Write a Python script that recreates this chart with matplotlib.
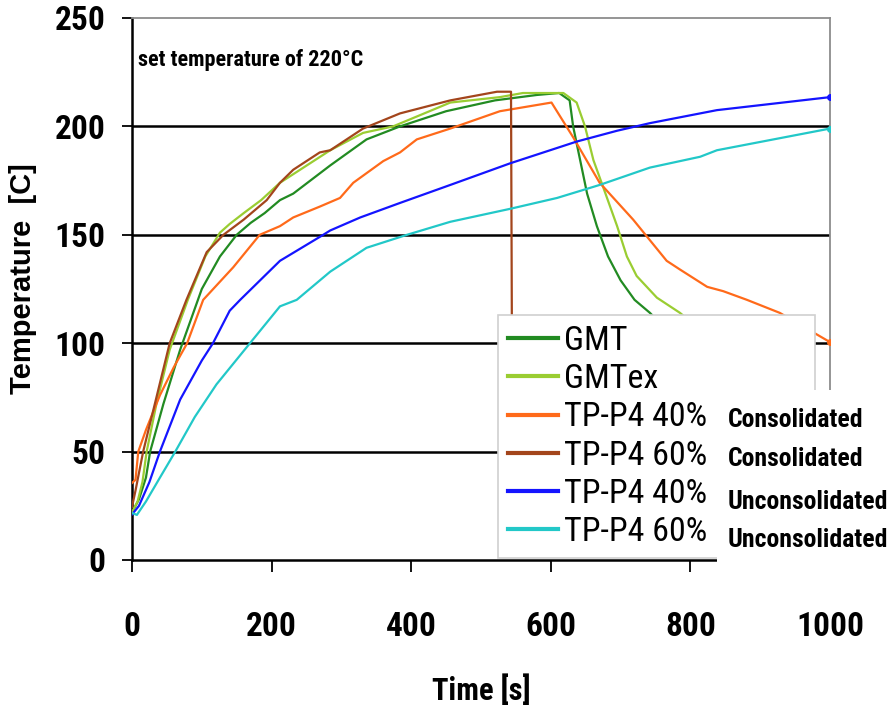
import numpy as np
import matplotlib
matplotlib.use("Agg")
import matplotlib.pyplot as plt
from matplotlib.patches import Rectangle

# heating curves (time in s, temperature in C)
gmt_t = [0, 10, 20, 26, 45, 69, 100, 126, 150, 170, 190, 212, 231, 284, 336, 384, 450, 520,
         580, 612, 627, 632, 642, 652, 666, 682, 700, 720, 742, 760]
gmt_T = [22, 28, 38, 50, 72, 97, 125, 140, 150, 155.5, 160, 166, 169, 182, 194, 200, 207, 212,
         214.5, 215.4, 212, 200, 184.5, 169, 154, 140, 129, 120, 114, 108]

gmtex_t = [0, 8, 15, 21, 35, 54, 80, 105, 126, 140, 160, 185, 212, 284, 331, 374, 456, 527,
           560, 618, 637, 649, 661, 675, 695, 709, 723, 752, 785, 800]
gmtex_T = [22, 27, 36, 50, 72, 97, 120, 140, 151, 155, 160, 166, 174, 189, 197, 200, 211,
           213.5, 215.4, 215.4, 211, 200, 184.5, 172, 154, 140, 131, 121, 114, 110]

tp40c_t = [0, 5, 9, 20, 40, 60, 79, 102, 145, 183, 212, 231, 269, 298, 317, 360, 384,
           408, 456, 527, 601, 632, 670, 718, 766, 785, 824, 847, 881, 928, 1000]
tp40c_T = [35.5, 37, 50, 60, 76, 89, 100, 120, 135, 150, 154, 158, 163, 167, 174, 184,
           188, 194, 199, 207, 211, 195, 174, 157, 138, 134, 126, 124, 120, 114, 100.5]

tp60c_t = [0, 5, 16, 35, 54, 78, 107, 131, 160, 193, 212, 231, 269, 284, 331, 384, 456,
           523, 543, 545]
tp60c_T = [24.5, 32, 50, 75, 100, 120, 142, 150, 157, 166, 174, 180, 188, 189, 199, 206,
           212, 216, 216, 40]

tp40u_t = [0, 10, 25, 40, 69, 100, 116, 140, 155, 212, 274, 284, 327, 384, 456, 542,
           637, 695, 742, 814, 838, 1000]
tp40u_T = [21, 25, 36, 50, 74, 92, 100, 115, 120, 138, 150, 152, 158, 164.7, 173, 183,
           193, 198, 201.5, 206, 207.5, 213.5]

tp60u_t = [0, 7, 20, 40, 62, 90, 121, 169, 212, 236, 284, 336, 394, 456, 542, 609, 670,
           742, 814, 838, 1000]
tp60u_T = [21.7, 20.8, 27, 38, 50, 66, 81, 100, 117, 120, 133, 144, 150, 156, 162, 167,
           173, 181, 186, 189, 199]

series = [
    ("GMT", gmt_t, gmt_T, "#228b22"),
    ("GMTex", gmtex_t, gmtex_T, "#9acd32"),
    ("TP-P4 40%", tp40c_t, tp40c_T, "#ff6a1a"),
    ("TP-P4 60%", tp60c_t, tp60c_T, "#a3451c"),
    ("TP-P4 40%", tp40u_t, tp40u_T, "#1414ff"),
    ("TP-P4 60%", tp60u_t, tp60u_T, "#22c8c8"),
]
side_labels = ["Consolidated", "Consolidated", "Unconsolidated", "Unconsolidated"]

y_ticks = [0, 50, 100, 150, 200, 250]
x_ticks = [0, 200, 400, 600, 800, 1000]
grid_lines = [50, 100, 150, 200]

narrow = ["Roboto Condensed", "DejaVu Sans"]

fig = plt.figure(figsize=(8.96, 7.15), dpi=100)
ax = fig.add_axes([132 / 896, 1 - 560 / 715, 698 / 896, 542 / 715])

for y in grid_lines:
    ax.axhline(y, color="black", lw=1.8, zorder=1)

handles = []
for name, t, T, col in series:
    ln, = ax.plot(t, T, color=col, lw=1.6, zorder=3)
    handles.append(ln)
# end markers on the long curves
for name, t, T, col in series[2:]:
    if t[-1] == 1000:
        ax.plot(t[-1], T[-1], "o", color=col, ms=4, zorder=4)

ax.set_xlim(0, 1000)
ax.set_ylim(0, 250)
ax.set_xticks(x_ticks)
ax.set_yticks(y_ticks)

for s in ["top", "right"]:
    ax.spines[s].set_color("#8c8c8c")
    ax.spines[s].set_linewidth(1.3)
for s in ["left", "bottom"]:
    ax.spines[s].set_color("black")
    ax.spines[s].set_linewidth(1.8)

ax.tick_params(axis="y", direction="out", length=7, width=1.3, pad=12)
ax.tick_params(axis="x", direction="out", length=8.5, width=1.3, pad=28)
for lab in ax.get_xticklabels() + ax.get_yticklabels():
    lab.set_fontfamily(narrow)
    lab.set_fontweight("bold")
    lab.set_fontsize(24)

ax.set_ylabel("Temperature  [C]", fontsize=21, fontweight="bold",
              family=["Liberation Sans", "DejaVu Sans"], va="center")
ax.yaxis.set_label_coords(-0.156, 0.52)
ax.set_xlabel("Time [s]", fontsize=22, fontweight="bold", family=narrow, va="center")
ax.xaxis.set_label_coords(0.5, -0.24)

ax.text(0.009, 0.9225, "set temperature of 220°C", transform=ax.transAxes,
        fontsize=16, fontweight="bold", family=narrow, va="center", ha="left")

leg = ax.legend(handles, [s[0] for s in series],
                bbox_to_anchor=(498 / 896, 1 - 555 / 715, 317 / 896, 240 / 715),
                bbox_transform=fig.transFigure, loc="upper left", mode="expand",
                prop={"family": narrow, "size": 24.5}, fancybox=False, framealpha=1,
                edgecolor="#d0d0d0", borderpad=0.3, labelspacing=0.18,
                handlelength=1.45, handletextpad=0.2, borderaxespad=0)
leg.get_frame().set_linewidth(1.2)
for ln in leg.get_lines():
    ln.set_linewidth(3)

# white block carrying the consolidated / unconsolidated notes
fig.add_artist(Rectangle((717 / 896, 1 - 572 / 715), 179 / 896, 182 / 715,
                         transform=fig.transFigure, facecolor="white",
                         edgecolor="none", zorder=5))
for lab, yc in zip(side_labels, [420, 459, 502, 540]):
    fig.text(728 / 896, 1 - yc / 715, lab, fontsize=18.5, fontweight="bold",
             family=narrow, va="center", ha="left", zorder=6)

fig.savefig("out.png", dpi=100)
